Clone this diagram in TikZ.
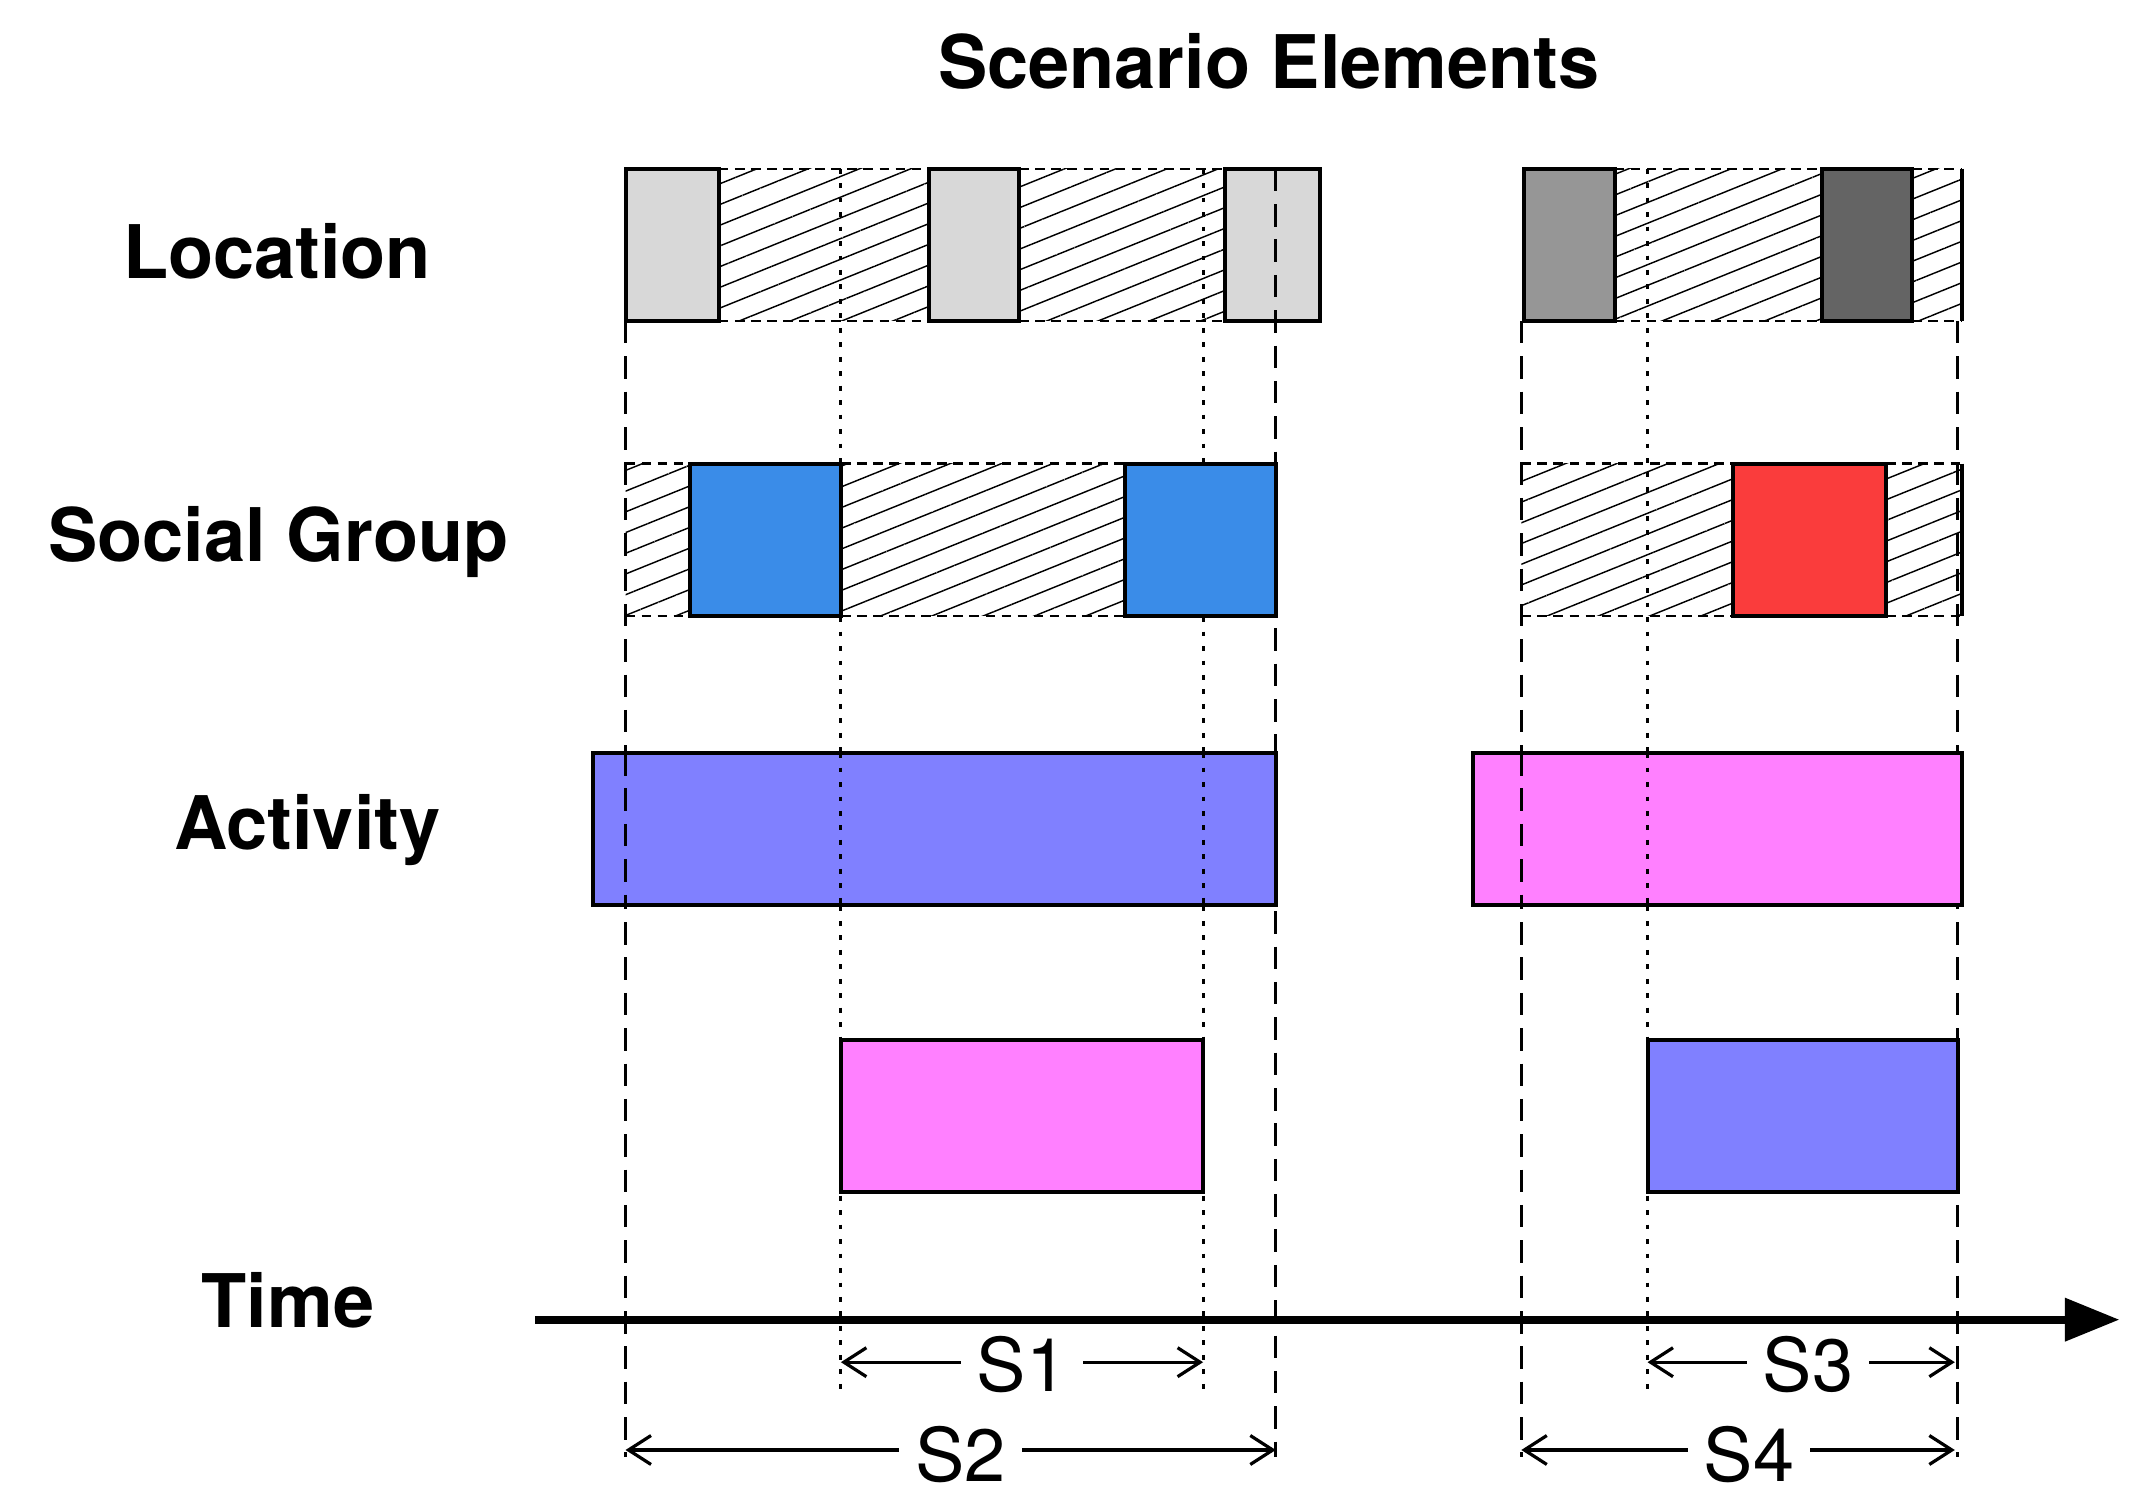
\documentclass[tikz,border=0pt]{standalone}
\usepackage{fontspec}
\setmainfont{TeX Gyre Heros}
\usetikzlibrary{patterns.meta,arrows.meta}
\begin{document}
\begin{tikzpicture}[x=0.03cm,y=-0.03cm,
  lab/.style={font=\fontsize{46}{50}\selectfont\bfseries},
  slab/.style={font=\fontsize{46}{50}\selectfont,fill=white,inner xsep=10pt,inner ysep=0pt},
  box/.style={draw=black,line width=2.5pt},
  hatch/.style={pattern={Lines[angle=22,distance=0.42cm,line width=0.9pt]}},
  hb/.style={draw=black,line width=1.5pt,dash pattern=on 6pt off 4pt},
  vd/.style={line width=1.8pt,dash pattern=on 14pt off 8pt},
  vo/.style={line width=1.8pt,dash pattern=on 3pt off 6pt},
  sa/.style={line width=2pt,{Straight Barb[length=14pt,width=18pt]}-{Straight Barb[length=14pt,width=18pt]}}]
\useasboundingbox (0,0) rectangle (1560,1101);
\definecolor{lg}{RGB}{216,216,216}
\definecolor{mg}{RGB}{150,150,150}
\definecolor{dg}{RGB}{100,100,100}
\definecolor{bl}{RGB}{58,140,232}
\definecolor{rd}{RGB}{250,60,60}
\definecolor{pu}{RGB}{128,128,255}
\definecolor{pk}{RGB}{255,128,255}
% vertical guide lines
\draw[vd] (456,234) -- (456,1062);
\draw[vd] (930,123) -- (930,1062);
\draw[vd] (1109,234) -- (1109,1062);
\draw[vd] (1427,234) -- (1427,1062);
\draw[vo] (613,123) -- (613,1015);
\draw[vo] (877,123) -- (877,1015);
\draw[vo] (1201,123) -- (1201,1015);
% Location row
\foreach \a/\b in {524/677,743/893}{\path[hatch] (\a,123) rectangle (\b,234); \draw[hb] (\a,123) -- (\b,123) (\a,234) -- (\b,234);}
\foreach \a/\b in {456/524,677/743,893/962}{\draw[box,fill=lg] (\a,123) rectangle (\b,234);}
\draw[vd] (930,123) -- (930,234);
\foreach \a/\b in {1177/1328,1394/1430}{\path[hatch] (\a,123) rectangle (\b,234); \draw[hb] (\a,123) -- (\b,123) (\a,234) -- (\b,234);}
\draw[box] (1430,123) -- (1430,234);
\draw[box,fill=mg] (1111,123) rectangle (1177,234);
\draw[box,fill=dg] (1328,123) rectangle (1394,234);
\draw[vo] (1201,123) -- (1201,234);
% Social row
\foreach \a/\b in {456/503,613/820,1109/1263,1375/1430}{\path[hatch] (\a,338) rectangle (\b,449); \draw[hb] (\a,338) -- (\b,338) (\a,449) -- (\b,449);}
\draw[box] (1430,338) -- (1430,449);
\draw[box,fill=bl] (503,338) rectangle (613,449);
\draw[box,fill=bl] (820,338) rectangle (930,449);
\draw[box,fill=rd] (1263,338) rectangle (1375,449);
% Activity row
\draw[box,fill=pu] (432,549) rectangle (930,660);
\draw[box,fill=pk] (1074,549) rectangle (1430,660);
\draw[vd] (456,549) -- (456,660);
\draw[vd] (1109,549) -- (1109,660);
\draw[vo] (613,549) -- (613,660);
\draw[vo] (877,549) -- (877,660);
\draw[vo] (1201,549) -- (1201,660);
% fourth row
\draw[box,fill=pk] (613,758) rectangle (877,869);
\draw[box,fill=pu] (1201,758) rectangle (1427,869);
% labels
\node[lab] (title) at (925,45) {Scenario Elements};
\node[lab] (loc) at (202,183) {Location};
\node[lab] (soc) at (203,395) {Social Group};
\node[lab] (act) at (224,605) {Activity};
\node[lab] (time) at (210,948) {Time};
% time axis
\coordinate (t0) at (390,962);
\coordinate (t1) at (1545,962);
\draw[line width=5pt,-{Triangle[length=34pt,width=26pt]}] (t0) -- (t1);
% spans
\draw[sa] (613,993) -- (877,993);
\node[slab] (s1) at (745,995) {S1};
\draw[sa] (456,1057) -- (930,1057);
\node[slab] (s2) at (700,1060) {S2};
\draw[sa] (1201,993) -- (1425,993);
\node[slab] (s3) at (1318,995) {S3};
\draw[sa] (1109,1057) -- (1425,1057);
\node[slab] (s4) at (1275,1060) {S4};
\end{tikzpicture}
\end{document}
